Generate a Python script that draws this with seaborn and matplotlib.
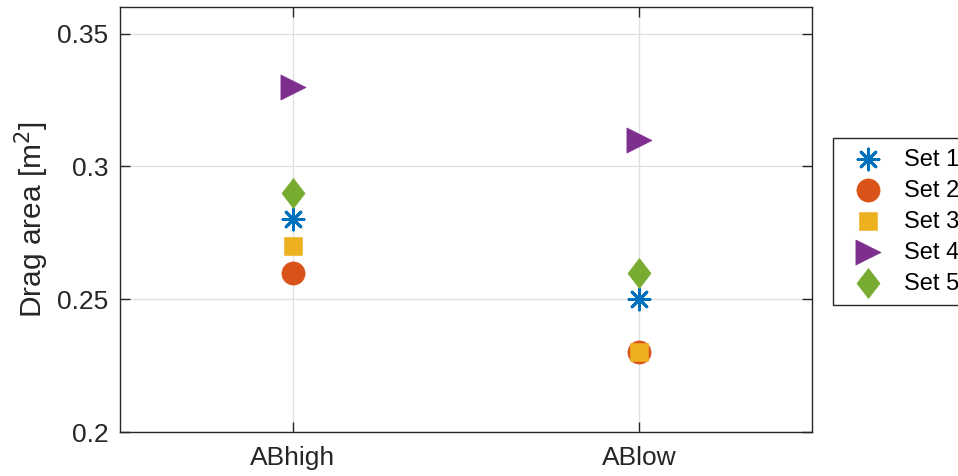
import matplotlib
matplotlib.use("Agg")
import matplotlib.pyplot as plt
import seaborn as sns
import pandas as pd
from matplotlib.path import Path

# Drag area per configuration for each measurement set
categories = ["ABhigh", "ABlow"]
set_names = ["Set 1", "Set 2", "Set 3", "Set 4", "Set 5"]
set1 = [0.28, 0.25]
set2 = [0.26, 0.23]
set3 = [0.27, 0.23]
set4 = [0.33, 0.31]
set5 = [0.29, 0.26]
y_ticks = [0.2, 0.25, 0.3, 0.35]
y_tick_labels = ["0.2", "0.25", "0.3", "0.35"]

series = [set1, set2, set3, set4, set5]
colors = ["#0072BD", "#D95319", "#EDB120", "#7E2F8E", "#77AC30"]

# tall diamond (narrower than wide-square diamond)
tall_diamond = Path([(0, 1), (0.77, 0), (0, -1), (-0.77, 0), (0, 1)],
                    [Path.MOVETO, Path.LINETO, Path.LINETO, Path.LINETO, Path.CLOSEPOLY])
markers = [(8, 2, 0), "o", "s", ">", tall_diamond]
sizes = [230, 280, 155, 330, 470]

sns.set_theme(style="white")
plt.rcParams["font.family"] = ["Liberation Sans", "DejaVu Sans"]

fig = plt.figure(figsize=(9.58, 4.76), dpi=100)
ax = fig.add_axes([119.5 / 958, 44 / 476, (812 - 119.5) / 958, (432 - 7) / 476])

rows = []
for name, vals in zip(set_names, series):
    for cat, v in zip(categories, vals):
        rows.append({"config": cat, "set": name, "area": v})
df = pd.DataFrame(rows)
df["xpos"] = df["config"].map({c: i for i, c in enumerate(categories)})

for name, col, mk, sz in zip(set_names, colors, markers, sizes):
    sub = df[df["set"] == name]
    lw = 2.0 if name == "Set 1" else 0.4
    sns.scatterplot(data=sub, x="xpos", y="area", ax=ax, marker=mk, s=sz,
                    color=col, edgecolor=col, linewidth=lw, label=name, zorder=3)

ax.set_xlim(-0.5, 1.5)
ax.set_ylim(0.2, 0.36)
ax.set_xticks(range(len(categories)))
ax.set_xticklabels(categories)
ax.set_yticks(y_ticks)
ax.set_yticklabels(y_tick_labels)
ax.set_xlabel("")
ax.set_ylabel("Drag area [m$^2$]", fontsize=21.5, color="#262626")
ax.yaxis.set_label_coords(-0.099, 0.5)

ax.grid(True, color="#dfdfdf", linewidth=0.9)
ax.set_axisbelow(True)
for sp in ax.spines.values():
    sp.set_visible(True)
    sp.set_color("#262626")
    sp.set_linewidth(1.0)
ax.tick_params(direction="in", length=7, width=1.0, colors="#262626",
               labelsize=19, top=True, right=True, bottom=True, left=True)
ax.tick_params(axis="x", pad=10)
ax.tick_params(axis="y", pad=8)

leg = ax.legend(loc="upper left", bbox_to_anchor=(833 / 958, 1 - 138 / 476),
                bbox_transform=fig.transFigure, fontsize=17, frameon=True,
                fancybox=False, framealpha=1, edgecolor="#262626",
                borderpad=0.45, labelspacing=0.38, handletextpad=0.45,
                handlelength=2.1, borderaxespad=0)
leg.get_frame().set_linewidth(1.0)
for t in leg.get_texts():
    t.set_color("black")

fig.savefig("out.png", dpi=100)
